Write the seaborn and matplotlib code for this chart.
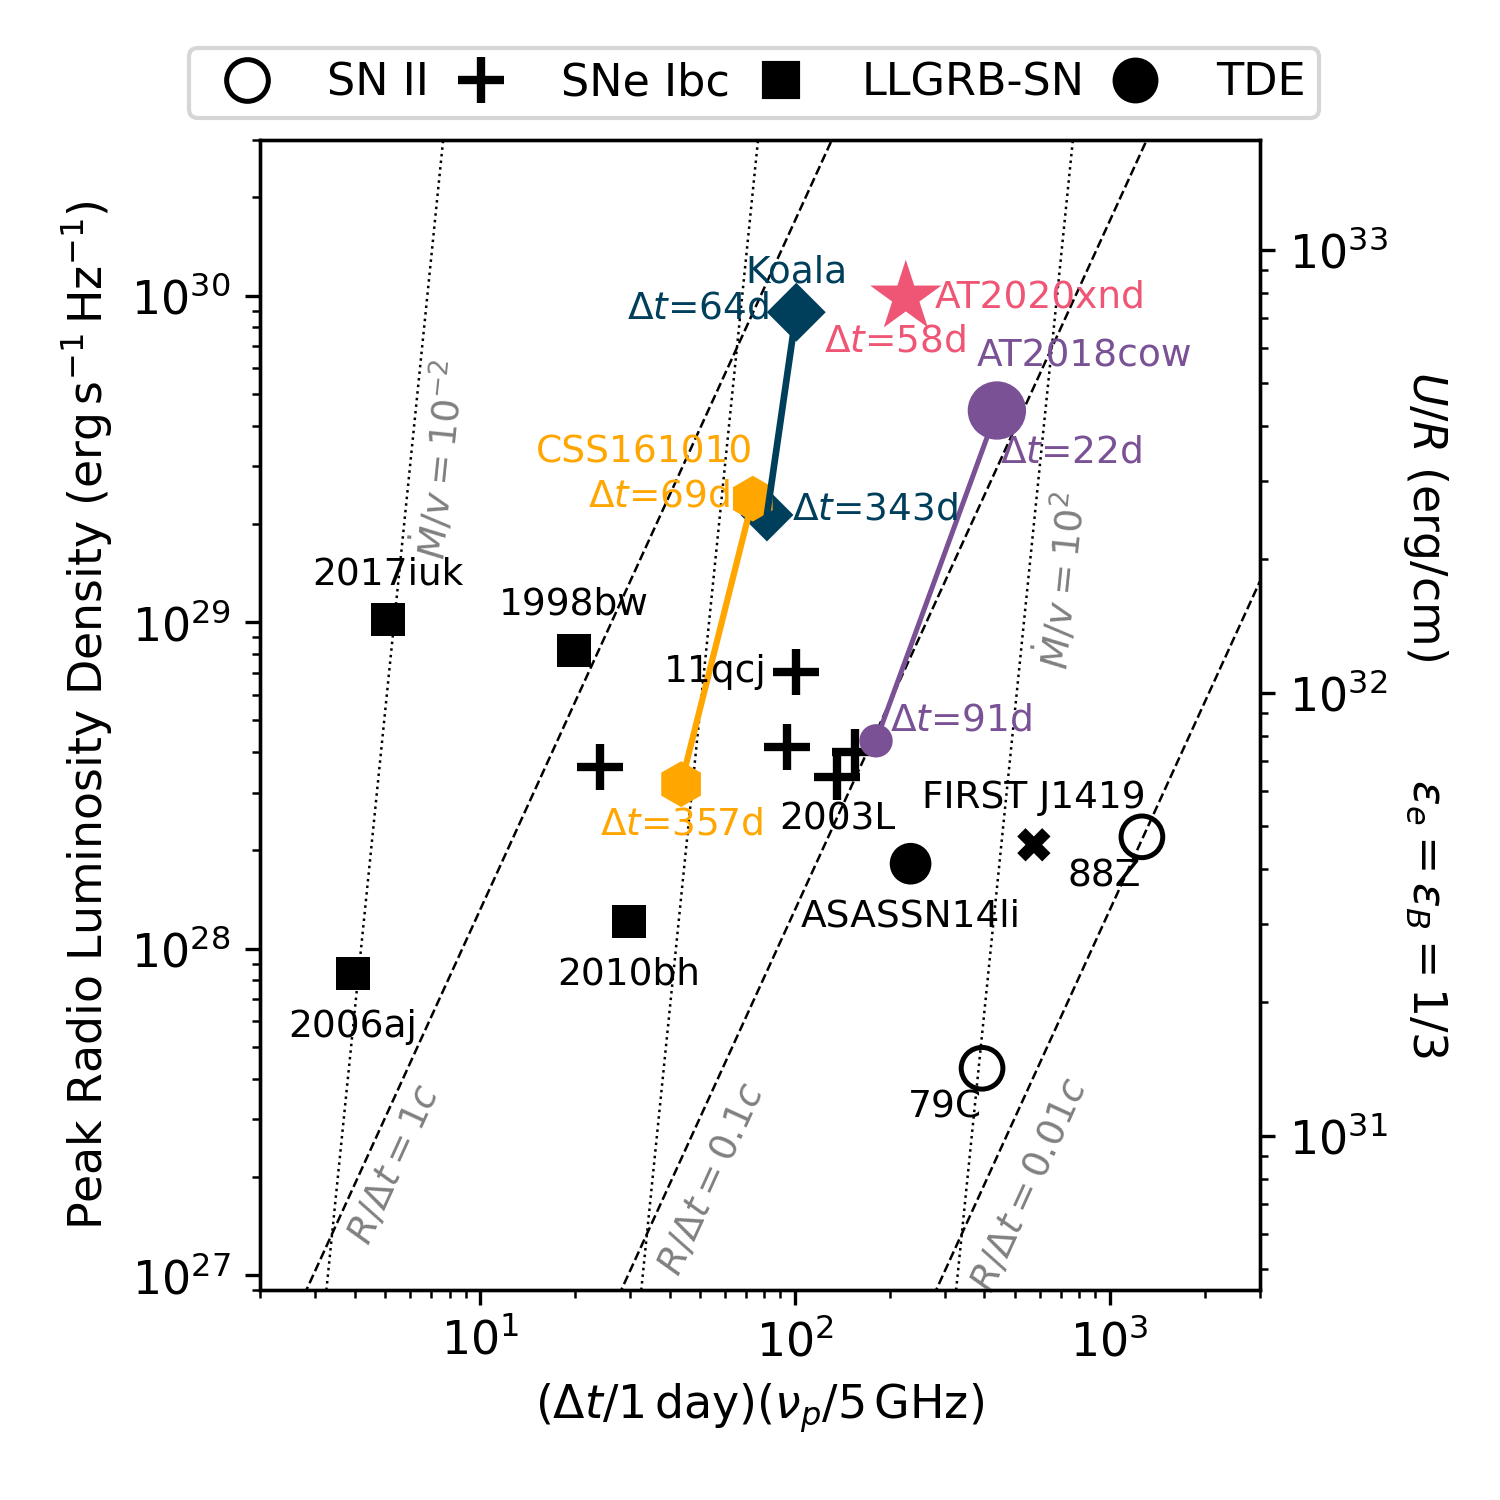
import numpy as np
import matplotlib
matplotlib.use("Agg")
import matplotlib.pyplot as plt
from matplotlib.lines import Line2D
import seaborn as sns

# ---- data: x = (dt/1 day)(nu_p/5 GHz), L = peak L_nu ----
snii_names = ['88Z', '79C']
snii_x = [1265, 393]
snii_L = [2.2e28, 4.3e27]

snibc_names = ['', '11qcj', '', '2003L', '']
snibc_x = [24, 101, 94.5, 136, 155]
snibc_L = [3.6e28, 7.05e28, 4.15e28, 3.36e28, 4.0e28]

llgrb_names = ['2017iuk', '1998bw', '2006aj', '2010bh']
llgrb_x = [5.1, 19.9, 3.95, 29.7]
llgrb_L = [1.02e29, 8.2e28, 8.4e27, 1.21e28]

tde_names = ['ASASSN14li']
tde_x = [233]
tde_L = [1.82e28]

first_x = [574]
first_L = [2.08e28]

koala_x = [101, 81.5]
koala_L = [8.9e29, 2.13e29]
koala_dt = ['64', '343']

xnd_x = [225]
xnd_L = [9.9e29]
xnd_dt = ['58']

css_x = [73.5, 43.5]
css_L = [2.39e29, 3.19e28]
css_dt = ['69', '357']

cow_x = [438, 181]
cow_L = [4.45e29, 4.33e28]
cow_dt = ['22', '91']

c_koala, c_cow, c_xnd, c_css = '#003f5c', '#7a5195', '#ef5675', '#ffa600'

xlim = (2, 3000)
ylim = (9e26, 3e30)


def ur(L):
    # U/R (erg/cm) for eps_e = eps_B = 1/3, scales as L^(14/19)
    return 10**10.791 * np.asarray(L)**(14 / 19)


fig = plt.figure(figsize=(5, 5), dpi=300)
ax = fig.add_axes([0.1733, 0.14, 0.6667, 0.7667])
ax.set_xscale('log')
ax.set_yscale('log')
ax.set_xlim(*xlim)
ax.set_ylim(*ylim)

# reference lines: constant R/dt (dashed) and constant Mdot/v (dotted)
xx = np.logspace(np.log10(xlim[0]), np.log10(xlim[1]), 300)
for k in range(3):
    ax.plot(xx, 10**(26.954 + 19 / 9 * (np.log10(xx) - 0.4485 - k)), 'k--', lw=0.6, zorder=1)
    ax.plot(xx, 10**(26.954 + 9.5 * (np.log10(xx) - 0.512 - k)), 'k:', lw=0.6, zorder=1)

# screen angles of the two line families
xpd = 0.6667 * 1500 / np.log10(xlim[1] / xlim[0])
ypd = 0.7667 * 1500 / np.log10(ylim[1] / ylim[0])
ang_r = np.degrees(np.arctan(19 / 9 * ypd / xpd))
ang_m = np.degrees(np.arctan(9.5 * ypd / xpd))
lab = dict(color='gray', fontsize=9, transform=ax.transAxes, ha='center', va='center')
ax.text(0.135, 0.109, r'$R/\Delta t = 1c$', rotation=ang_r, **lab)
ax.text(0.452, 0.096, r'$R/\Delta t = 0.1c$', rotation=ang_r, **lab)
ax.text(0.770, 0.091, r'$R/\Delta t = 0.01c$', rotation=ang_r, **lab)
ax.text(0.180, 0.722, r'$\dot{M}/v = 10^{-2}$', rotation=ang_m, **lab)
ax.text(0.802, 0.617, r'$\dot{M}/v = 10^{2}$', rotation=ang_m, **lab)

# tracks
sns.lineplot(x=koala_x, y=koala_L, sort=False, color=c_koala, lw=1.6, ax=ax, zorder=6)
sns.lineplot(x=css_x, y=css_L, sort=False, color=c_css, lw=1.5, ax=ax, zorder=4)
sns.lineplot(x=cow_x, y=cow_L, sort=False, color=c_cow, lw=1.2, ax=ax, zorder=4)

# markers
sns.scatterplot(x=snii_x, y=snii_L, marker='o', s=10**2, facecolor='none', edgecolor='k',
                linewidth=1.2, ax=ax, zorder=3)
sns.scatterplot(x=snibc_x, y=snibc_L, marker='+', s=11**2, color='k', linewidth=2, ax=ax, zorder=3)
sns.scatterplot(x=llgrb_x, y=llgrb_L, marker='s', s=8**2, color='k', edgecolor='none', ax=ax, zorder=3)
sns.scatterplot(x=tde_x, y=tde_L, marker='o', s=10**2, color='k', edgecolor='none', ax=ax, zorder=3)
sns.scatterplot(x=first_x, y=first_L, marker='X', s=8**2, color='k', edgecolor='none', ax=ax, zorder=3)
sns.scatterplot(x=koala_x, y=koala_L, marker='D', s=[10**2, 9**2], color=c_koala, edgecolor='none',
                ax=ax, zorder=3)
sns.scatterplot(x=css_x, y=css_L, marker='h', s=11**2, color=c_css, edgecolor='none', ax=ax, zorder=5)
sns.scatterplot(x=cow_x, y=cow_L, marker='o', s=[14**2, 8**2], color=c_cow, edgecolor='none', ax=ax, zorder=5)
sns.scatterplot(x=xnd_x, y=xnd_L, marker='*', s=18**2, color=c_xnd, edgecolor='none', ax=ax, zorder=5)

# labels
fs = 9


def lbl(text, x, y, dx, dy, ha='center', color='k'):
    ax.annotate(text, (x, y), xytext=(dx, dy), textcoords='offset points',
                ha=ha, va='center', fontsize=fs, color=color, zorder=7)


lbl(snii_names[0], snii_x[0], snii_L[0], -9, -9.6)
lbl(snii_names[1], snii_x[1], snii_L[1], -9, -9.4)
lbl(snibc_names[1], snibc_x[1], snibc_L[1], -7, 0, ha='right')
lbl(snibc_names[3], snibc_x[3], snibc_L[3], 0, -10.3)
lbl(llgrb_names[0], llgrb_x[0], llgrb_L[0], 0, 10.8)
lbl(llgrb_names[1], llgrb_x[1], llgrb_L[1], 0, 11)
lbl(llgrb_names[2], llgrb_x[2], llgrb_L[2], 0, -13)
lbl(llgrb_names[3], llgrb_x[3], llgrb_L[3], 0, -12.7)
lbl(tde_names[0], tde_x[0], tde_L[0], 0, -12.7)
lbl('FIRST J1419', first_x[0], first_L[0], 0, 11.3)

lbl('Koala', koala_x[0], koala_L[0], 0, 9.6, color=c_koala)
lbl(r'$\Delta t$=' + koala_dt[0] + 'd', koala_x[0], koala_L[0], -6.5, 1, ha='right', color=c_koala)
lbl(r'$\Delta t$=' + koala_dt[1] + 'd', koala_x[1], koala_L[1], 6, 1.2, ha='left', color=c_koala)
lbl('AT2020xnd', xnd_x[0], xnd_L[0], 7, 0, ha='left', color=c_xnd)
lbl(r'$\Delta t$=' + xnd_dt[0] + 'd', xnd_x[0], xnd_L[0], -2.6, -10.6, color=c_xnd)
lbl('AT2018cow', cow_x[0], cow_L[0], -4.8, 13, ha='left', color=c_cow)
lbl(r'$\Delta t$=' + cow_dt[0] + 'd', cow_x[0], cow_L[0], 0.7, -10, ha='left', color=c_cow)
lbl(r'$\Delta t$=' + cow_dt[1] + 'd', cow_x[1], cow_L[1], 3.4, 4.8, ha='left', color=c_cow)
lbl('CSS161010', css_x[0], css_L[0], 0, 11, ha='right', color=c_css)
lbl(r'$\Delta t$=' + css_dt[0] + 'd', css_x[0], css_L[0], -5.5, 0.5, ha='right', color=c_css)
lbl(r'$\Delta t$=' + css_dt[1] + 'd', css_x[1], css_L[1], 0, -9.6, color=c_css)

ax.set_xlabel(r'$(\Delta t/1\,\mathrm{day})(\nu_p/5\,\mathrm{GHz})$', fontsize=11)
ax.set_ylabel(r'Peak Radio Luminosity Density ($\mathrm{erg\,s^{-1}\,Hz^{-1}}$)', fontsize=11)
ax.tick_params(labelsize=11)

# legend
handles = [
    Line2D([], [], ls='none', marker='o', ms=10, mfc='none', mec='k', mew=1.2),
    Line2D([], [], ls='none', marker='+', ms=11, color='k', mew=2),
    Line2D([], [], ls='none', marker='s', ms=8, color='k'),
    Line2D([], [], ls='none', marker='o', ms=10, color='k'),
]
ax.legend(handles, ['SN II', 'SNe Ibc', 'LLGRB-SN', 'TDE'], loc='lower center',
          bbox_to_anchor=(0.494, 1.0), ncol=4, fontsize=10.7, columnspacing=0.15,
          handletextpad=0.8, handlelength=2, borderpad=0.3)

# right axis: U/R
ax2 = ax.twinx()
ax2.set_yscale('log')
ax2.set_ylim(ur(ylim[0]), ur(ylim[1]))
ax2.tick_params(labelsize=11)
ax2.set_ylabel(r'$U/R$ (erg/cm)' + ' ' * 8 + r'$\varepsilon_e = \varepsilon_B = 1/3$',
               fontsize=11, rotation=270, va='bottom', labelpad=3)

fig.savefig('out.png', dpi=300)
